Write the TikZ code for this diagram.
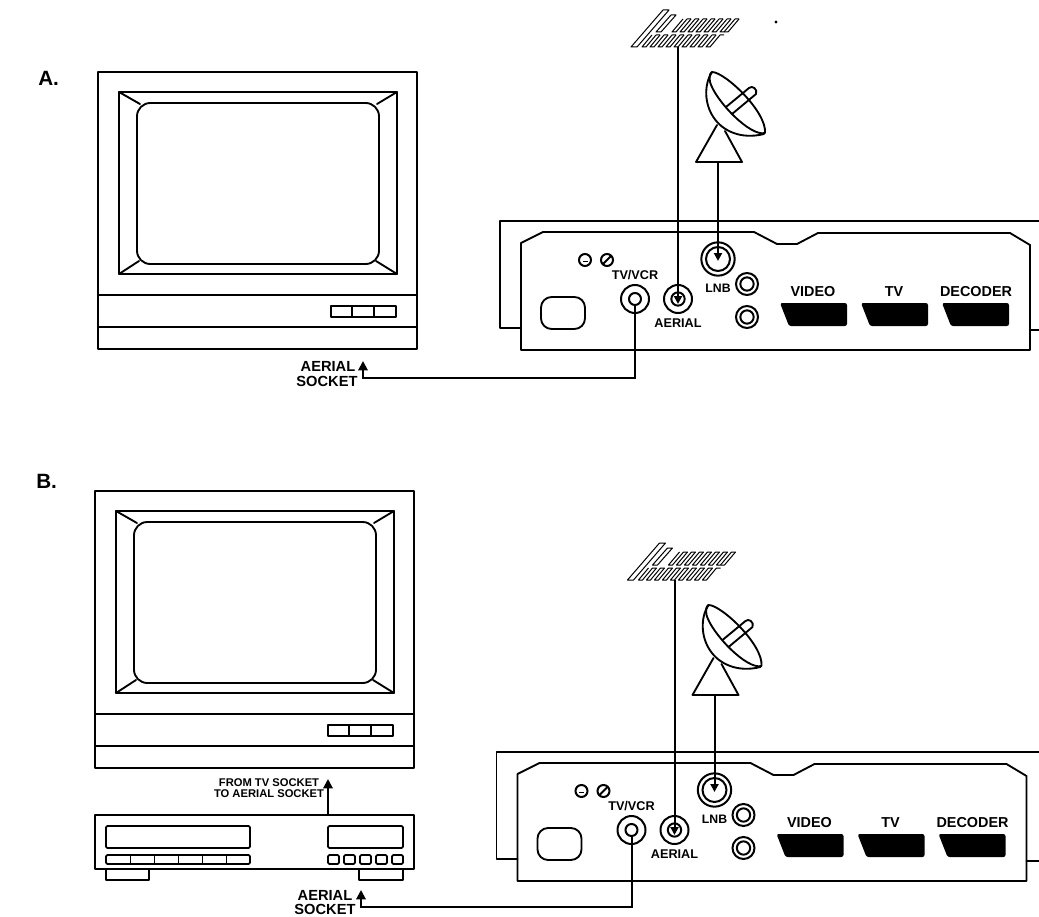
\documentclass[tikz,border=0pt]{standalone}
\usepackage{fontspec}
\setmainfont{Liberation Sans}
\usetikzlibrary{arrows.meta}
\tikzset{
  ln/.style={line width=1.4pt,line join=round,line cap=round},
  fine/.style={line width=0.75pt,line join=round},
  sock/.style={circle,draw,line width=1.5pt,inner sep=0pt,outer sep=0pt},
  lab/.style={inner sep=0pt,font=\bfseries\fontsize{#1}{#1}\selectfont},
  lab/.default=11pt,
  wire/.style={line width=1.5pt,line join=miter},
  tiparrow/.style={-{Triangle[length=7pt,width=7pt]}},
  smalltip/.style={-{Triangle[length=6pt,width=6pt]}}
}
\newcommand{\tvset}[1]{%
  \draw[ln] (98,72) rectangle (417,349);
  \draw[ln] (119,92) rectangle (397,274);
  \draw[ln,rounded corners=10pt] (137,103) rectangle (379,264);
  \draw[ln] (119,92) -- (140,104) (397,92) -- (377,104) (119,274) -- (139,261) (397,274) -- (376,261);
  \draw[ln] (98,295) -- (417,295) (98,327) -- (417,327);
  \draw[ln] (331,306) rectangle (396,317) (352,306) -- (352,317) (374,306) -- (374,317);
}
\newcommand{\sky}[1]{%
  \draw[fine] (663,10) -- (669,10) -- (637,47) -- (631,47) -- cycle;
  \draw[fine] (671,15) -- (676,15) -- (661,32) -- (656,32) -- cycle;
  \foreach \i in {0,...,6}{
    \pgfmathsetmacro{\xa}{683+\i*8}
    \draw[fine] (\xa,19) -- (\xa-11,32) -- (\xa-7,32) -- (\xa+4,19) -- (\xa+8,19);
  }
  \draw[fine] (739,19) -- (728,32) -- (724,32);
  \foreach \i in {0,...,8}{
    \pgfmathsetmacro{\xb}{652+\i*8}
    \draw[fine] (\xb,35) -- (\xb-10,47) -- (\xb-6,47) -- (\xb+4,35) -- (\xb+8,35);
  }
  \coordinate (ant#1) at (678,47);
  \draw[ln] (712,72) .. controls (725,72) and (767,112) .. (765,133)
            .. controls (750,137) and (715,100) .. (710,82) .. controls (709,76) and (710,73) .. (712,72);
  \draw[ln] (712,72) .. controls (704,84) and (704,104) .. (714,118)
            .. controls (722,130) and (740,140) .. (764,134);
  \draw[ln] (726,107) -- (749,88) .. controls (752,85) and (758,89) .. (756,94) -- (732,114);
  \draw[ln] (696,162) -- (742,162) -- (725,131) (696,162) -- (717,125);
  \coordinate (dish#1) at (718,162);
}
\newcommand{\rcvr}[1]{%
  \draw[ln] (521,328) -- (500,328) -- (500,221) -- (1043,221);
  \draw[ln] (1030,330) -- (1043,330);
  \draw[ln] (521,243) -- (543,232) -- (754,232) -- (777,244) -- (797,244) -- (818,233) -- (1010,233) -- (1030,245) -- (1030,350) -- (521,350) -- cycle;
  \node[sock,minimum size=9pt] (scr#1) at (585,260) {};
  \fill (582.5,260.5) rectangle (587.5,262);
  \node[sock,minimum size=9pt] (slot#1) at (607,260) {};
  \draw[ln] (603,264) -- (611,256);
  \draw[ln,rounded corners=8pt] (541,297) rectangle (585,329);
  \node[sock,minimum size=21pt] (tvo#1) at (635,299) {};
  \node[sock,minimum size=9pt] (tvi#1) at (635,299) {};
  \node[sock,minimum size=21pt] (aer#1) at (678,299) {};
  \node[sock,minimum size=10pt] (aei#1) at (678,299) {};
  \node[sock,minimum size=25pt] (lnb#1) at (718,259) {};
  \node[sock,minimum size=18pt] (lni#1) at (718,259) {};
  \node[sock,minimum size=16.5pt] (sa#1) at (747,284) {};
  \node[sock,minimum size=10pt] (sai#1) at (747,284) {};
  \node[sock,minimum size=16.5pt] (sb#1) at (747,317) {};
  \node[sock,minimum size=10pt] (sbi#1) at (747,317) {};
  \foreach \xx in {780,861,942}{
    \fill[rounded corners=1.6pt] (\xx,303) -- (\xx+67,303) -- (\xx+67,326) -- (\xx+9,326) -- cycle;
  }
  \node[lab=9.5pt] (ltv#1) at (635,275) {TV/VCR};
  \node[lab=9.5pt] (lae#1) at (678,323) {AERIAL};
  \node[lab=9.2pt] (lln#1) at (718,288) {LNB};
  \node[lab=10.8pt] (lvi#1) at (813,292) {VIDEO};
  \node[lab=10.8pt] (ltvv#1) at (894,292) {TV};
  \node[lab=10.8pt] (lde#1) at (976,292) {DECODER};
  \coordinate (aertip#1) at (678,304);
  \coordinate (lnbtip#1) at (718,261);
}
\begin{document}
\begin{tikzpicture}[x=0.75pt,y=-0.75pt]
\useasboundingbox (0,0) rectangle (1039,917);
\clip (0,0) rectangle (1039,917);
\fill[white] (0,0) rectangle (1039,917);

\node[lab=15.5pt,anchor=west] (labA) at (38,78) {A.};
\node[lab=15.5pt,anchor=west] (labB) at (36,481) {B.};
\fill (776,22) circle (1.6);

% panel A
\tvset{A}
\rcvr{A}
\sky{A}
\draw[wire,smalltip] (antA) -- (aertipA);
\draw[wire,smalltip] (dishA) -- (lnbtipA);
\node[lab] (aA) at (328,366) {AERIAL};
\node[lab] (sA) at (327,381) {SOCKET};
\coordinate (cornA) at (363,377.5);
\coordinate (tipA) at (363,361);
\draw[wire,tiparrow] (tviA.south) |- (cornA) -- (tipA);

% panel B
\begin{scope}[shift={(-3,419)}]
\tvset{B}
\end{scope}
\begin{scope}[shift={(-3.5,531)}]
\rcvr{B}
\end{scope}
\begin{scope}[shift={(-3.5,533)}]
\sky{B}
\end{scope}
\draw[wire,smalltip] (antB) -- (aertipB);
\draw[wire,smalltip] (dishB) -- (lnbtipB);

% VCR
\draw[ln] (95,815) rectangle (414,869);
\draw[ln,rounded corners=1pt] (106,826) rectangle (250,848);
\draw[ln,rounded corners=1pt] (106,855) rectangle (250,864);
\draw[fine] (130,855) -- (130,864) (154,855) -- (154,864) (178,855) -- (178,864) (202,855) -- (202,864) (226,855) -- (226,864);
\draw[ln,rounded corners=1pt] (328,826) rectangle (403,848);
\foreach \xv in {328,344,360,376,392}{
  \draw[ln,rounded corners=1pt] (\xv,855) rectangle (\xv+11,864);
}
\draw[ln] (106,869) -- (106,880) -- (149,880) -- (149,869);
\draw[ln] (359,869) -- (359,880) -- (403,880) -- (403,869);
\node[lab=8.4pt] (fB) at (269,783) {FROM TV SOCKET};
\node[lab=8.4pt] (tB) at (269,794) {TO AERIAL SOCKET};
\coordinate (vcrtop) at (328,815);
\coordinate (tvtip) at (328,779);
\draw[wire,tiparrow] (vcrtop) -- (tvtip);
\node[lab] (aB) at (325,895) {AERIAL};
\node[lab] (sB) at (325,909) {SOCKET};
\coordinate (cornB) at (361,906.5);
\coordinate (tipB) at (361,890);
\draw[wire,tiparrow] (tviB.south) |- (cornB) -- (tipB);
\end{tikzpicture}
\end{document}
